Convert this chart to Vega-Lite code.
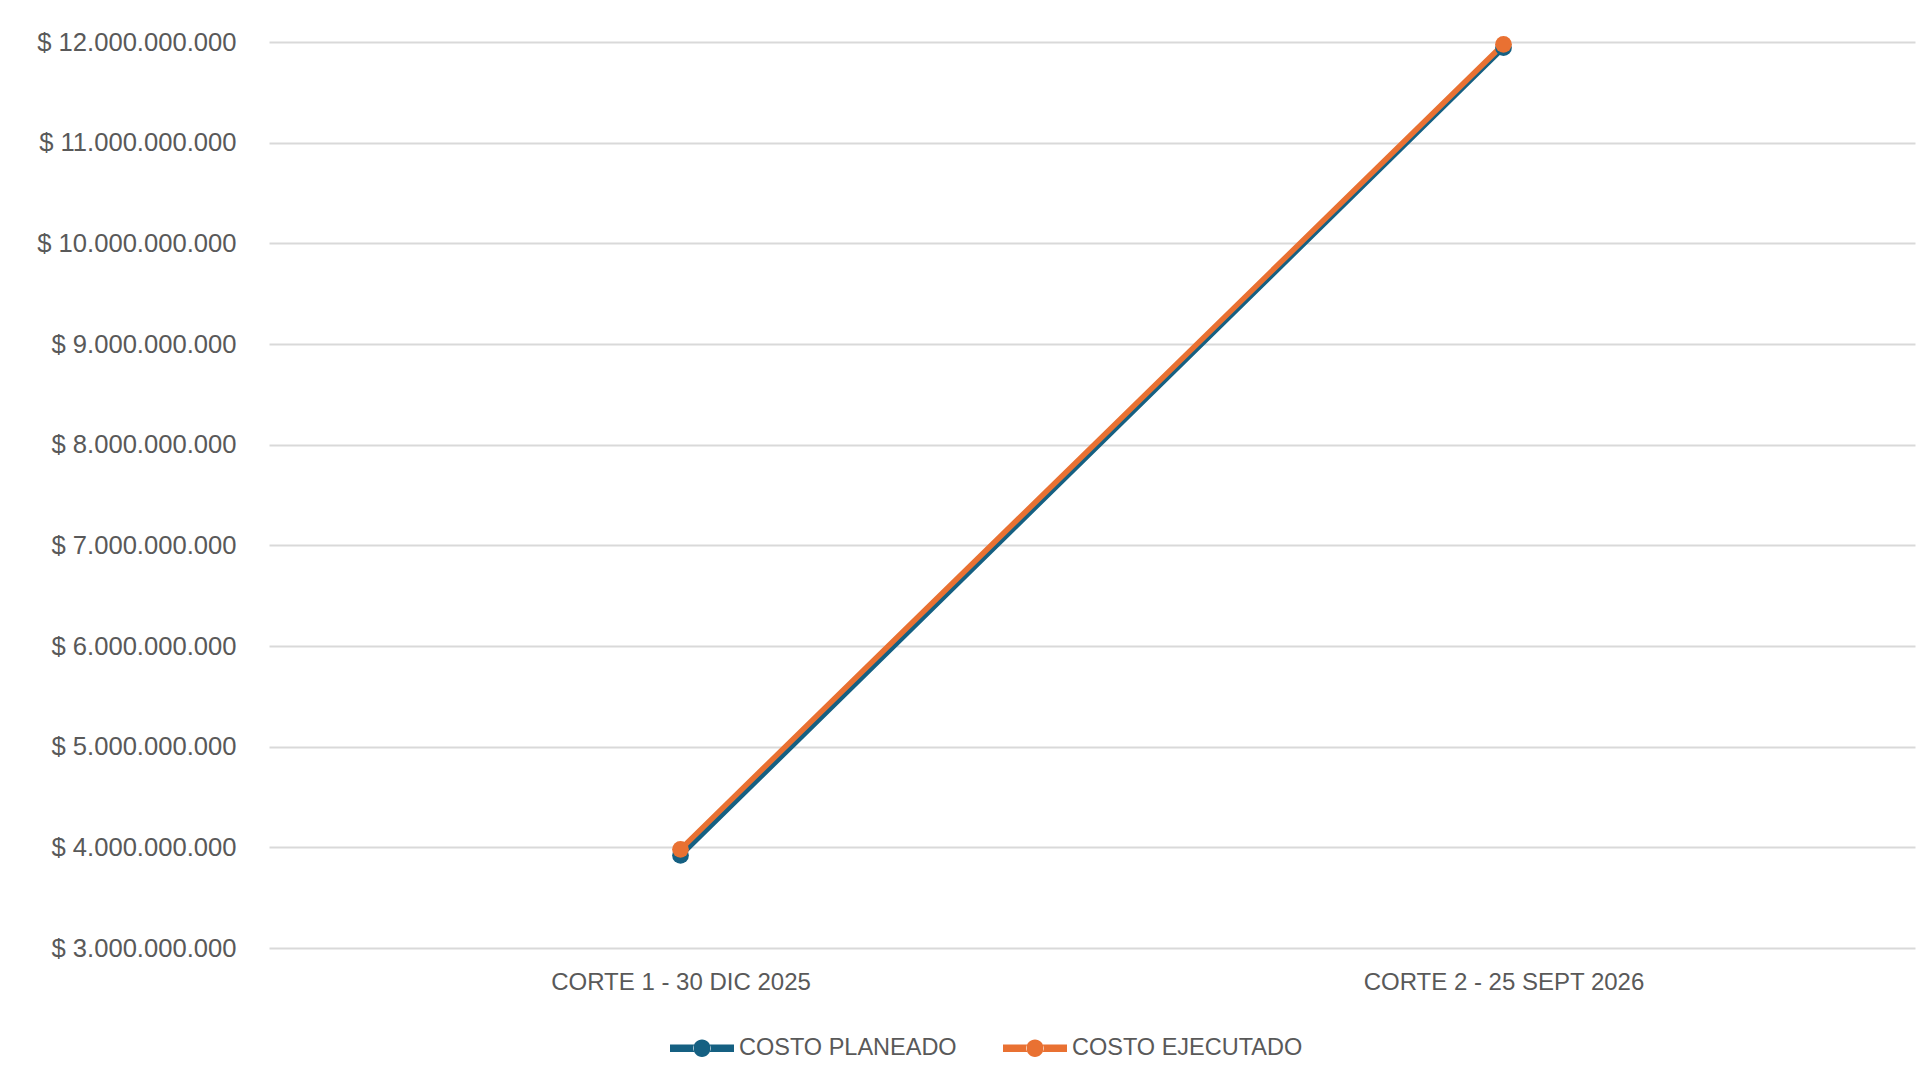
{
  "$schema": "https://vega.github.io/schema/vega-lite/v6.json",
  "autosize": "none",
  "width": 1646,
  "height": 906,
  "padding": {"left": 269, "top": 42, "right": 16, "bottom": 140},
  "background": "white",
  "config": {
    "locale": {
      "number": {"decimal": ",", "thousands": ".", "grouping": [3], "currency": ["$ ", ""]}
    },
    "view": {"stroke": null},
    "font": "Liberation Sans"
  },
  "data": {
    "values": [
      {"corte": "CORTE 1 - 30 DIC 2025", "serie": "COSTO PLANEADO", "costo": 3920000000},
      {"corte": "CORTE 2 - 25 SEPT 2026", "serie": "COSTO PLANEADO", "costo": 11944000000},
      {"corte": "CORTE 1 - 30 DIC 2025", "serie": "COSTO EJECUTADO", "costo": 3980000000},
      {"corte": "CORTE 2 - 25 SEPT 2026", "serie": "COSTO EJECUTADO", "costo": 11977000000}
    ]
  },
  "encoding": {
    "x": {
      "field": "corte",
      "type": "ordinal",
      "sort": null,
      "scale": {"type": "point", "padding": 0.5},
      "axis": {
        "title": null,
        "labelAngle": 0,
        "labelFontSize": 24,
        "labelColor": "#595959",
        "labelPadding": 22,
        "labelLimit": 600,
        "domain": false,
        "ticks": false,
        "grid": false
      }
    },
    "y": {
      "field": "costo",
      "type": "quantitative",
      "scale": {"domain": [3000000000, 12000000000], "nice": false, "zero": false},
      "axis": {
        "title": null,
        "values": [3000000000, 4000000000, 5000000000, 6000000000, 7000000000, 8000000000, 9000000000, 10000000000, 11000000000, 12000000000],
        "format": "$,.0f",
        "labelFontSize": 25.6,
        "labelColor": "#595959",
        "labelPadding": 33,
        "labelLimit": 400,
        "domain": false,
        "ticks": false,
        "grid": true,
        "gridColor": "#d9d9d9",
        "gridWidth": 2
      }
    },
    "color": {
      "field": "serie",
      "type": "nominal",
      "scale": {
        "domain": ["COSTO PLANEADO", "COSTO EJECUTADO"],
        "range": ["#156082", "#E97132"]
      },
      "legend": {
        "title": null,
        "orient": "none",
        "direction": "horizontal",
        "legendX": 401,
        "legendY": 974,
        "symbolType": "M-1,-0.12L-0.25,-0.12L-0.25,0.12L-1,0.12Z M0.25,-0.12L1,-0.12L1,0.12L0.25,0.12Z M-0.27,0A0.27,0.27 0 1,0 0.27,0A0.27,0.27 0 1,0 -0.27,0Z",
        "symbolSize": 4096,
        "symbolStrokeWidth": 0,
        "labelFontSize": 23.5,
        "labelColor": "#595959",
        "labelOffset": 5,
        "labelLimit": 400,
        "columnPadding": 46,
        "encode": {
          "symbols": {
            "update": {
              "fill": {"scale": "color", "field": "value"},
              "stroke": {"value": "transparent"},
              "opacity": {"value": 1}
            }
          }
        }
      }
    }
  },
  "layer": [
    {
      "mark": {"type": "line", "strokeWidth": 5.5, "strokeCap": "round"},
      "encoding": {
        "detail": {"field": "serie"}
      }
    },
    {
      "mark": {"type": "point", "filled": true, "opacity": 1, "size": 280, "shape": "circle"}
    }
  ]
}
